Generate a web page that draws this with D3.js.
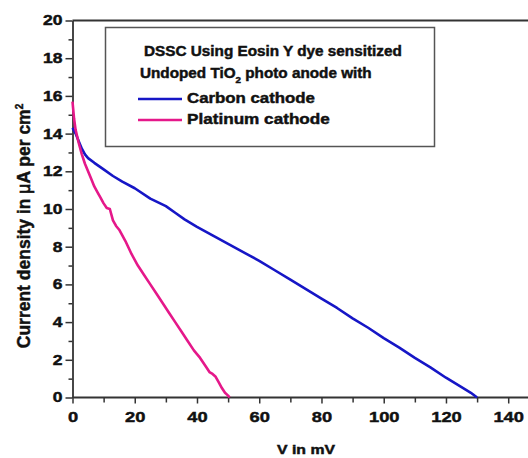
<!DOCTYPE html>
<html>
<head>
<meta charset="utf-8">
<script src="https://cdn.jsdelivr.net/npm/d3@7"></script>
<style>
  body { margin: 0; background: #fff; }
  svg text { font-family: Arial, "Liberation Sans", sans-serif; font-weight: 700; }
</style>
</head>
<body>
<script>
//Carbon cathode: [V in mV, current density]
const carbonV = [0, 1, 2, 3, 4, 5, 7, 10, 13, 16, 20, 25, 30, 33, 36, 40, 45, 50, 55, 60, 65, 70, 75, 80, 85, 90, 95, 100, 105, 110, 115, 120, 125, 128, 130];
const carbonJ = [14.3, 14.0, 13.6, 13.2, 12.9, 12.7, 12.45, 12.1, 11.75, 11.45, 11.1, 10.55, 10.15, 9.8, 9.45, 9.05, 8.6, 8.15, 7.7, 7.25, 6.75, 6.25, 5.75, 5.25, 4.75, 4.2, 3.7, 3.15, 2.65, 2.1, 1.6, 1.05, 0.55, 0.25, 0];

//Platinum cathode
const platinumV = [0, 0.5, 1, 2, 3, 4, 5, 6, 7, 8, 9, 10, 11, 12, 13, 14, 15, 17, 19, 21, 23, 25, 27, 29, 31, 33, 35, 37, 39, 41, 43, 44, 45, 46, 47, 48, 49, 50, 50.5];
const platinumJ = [15.7, 14.8, 14.2, 13.5, 12.9, 12.4, 12.0, 11.6, 11.2, 10.9, 10.6, 10.3, 10.05, 10.0, 9.4, 9.1, 8.9, 8.3, 7.6, 7.0, 6.5, 6.0, 5.5, 5.0, 4.5, 4.0, 3.5, 3.0, 2.5, 2.1, 1.6, 1.35, 1.25, 1.1, 0.8, 0.5, 0.25, 0.1, 0];

const xTicks = [0, 20, 40, 60, 80, 100, 120, 140];
const yTicks = [0, 2, 4, 6, 8, 10, 12, 14, 16, 18, 20];

const seriesNames = ["Carbon cathode", "Platinum cathode"];
const seriesColors = ["#1616c6", "#e5188a"];

const width = 528, height = 458;
const ink = "#111";

const svg = d3.select("body").append("svg")
  .attr("width", width)
  .attr("height", height);

//heavy text like the original
const heavy = (sel) => sel
  .attr("font-family", "Arial, 'Liberation Sans', sans-serif")
  .attr("font-weight", "bold")
  .attr("fill", ink)
  .attr("stroke", ink)
  .attr("stroke-width", 0.45);

//the original image is a bit wider than tall, so text gets stretched sideways
const stretch = (sel, sx) => sel.each(function() {
  const ax = +d3.select(this).attr("x") || 0;
  d3.select(this).attr("transform",
    "translate(" + ax + ",0) scale(" + sx + ",1) translate(" + (-ax) + ",0)");
});

//stretch a text so it fills a given width
const fitWidth = (sel, w) => sel.each(function() {
  const sx = w / this.getComputedTextLength();
  d3.select(this).call(stretch, sx);
});

//Scales
const x = d3.scaleLinear().domain([0, 147]).range([72.5, 530]);
const y = d3.scaleLinear().domain([0, 20]).range([397.5, 20.5]);

//Top frame line
svg.append("line")
  .attr("x1", x(0)).attr("x2", width)
  .attr("y1", y(20)).attr("y2", y(20))
  .attr("stroke", "#333").attr("stroke-width", 1.8);

//Minor ticks
svg.append("g")
  .attr("transform", "translate(0," + y(0) + ")")
  .call(d3.axisBottom(x).tickValues(d3.range(10, 147, 20)).tickSize(5).tickFormat(""))
  .call(g => g.select(".domain").remove())
  .selectAll("line").attr("stroke", "#333").attr("stroke-width", 1.5);

svg.append("g")
  .attr("transform", "translate(" + x(0) + ",0)")
  .call(d3.axisLeft(y).tickValues(d3.range(1, 20, 2)).tickSize(4).tickFormat(""))
  .call(g => g.select(".domain").remove())
  .selectAll("line").attr("stroke", "#333").attr("stroke-width", 1.5);

//X axis
const xAxis = svg.append("g")
  .attr("transform", "translate(0," + y(0) + ")")
  .call(d3.axisBottom(x).tickValues(xTicks).tickSize(6).tickSizeOuter(0).tickPadding(8));
xAxis.select(".domain").attr("stroke", "#333").attr("stroke-width", 1.8)
  .attr("d", "M" + x(0) + ",0H" + width);
xAxis.selectAll("line").attr("stroke", "#333").attr("stroke-width", 1.5);
xAxis.selectAll("text").attr("font-size", "15px").call(heavy).call(stretch, 1.22);

//Y axis
const yAxis = svg.append("g")
  .attr("transform", "translate(" + x(0) + ",0)")
  .call(d3.axisLeft(y).tickValues(yTicks).tickSize(7).tickSizeOuter(0).tickPadding(3));
yAxis.select(".domain").attr("stroke", "#333").attr("stroke-width", 1.8);
yAxis.selectAll("line").attr("stroke", "#333").attr("stroke-width", 1.5);
yAxis.selectAll("text").attr("font-size", "14px").call(heavy).call(stretch, 1.25);

//Axis labels
svg.append("text")
  .attr("text-anchor", "middle")
  .attr("x", 306).attr("y", 454)
  .attr("font-size", "12.5px")
  .call(heavy)
  .text("V in mV")
  .call(fitWidth, 58);

const yLabel = svg.append("text")
  .attr("transform", "translate(30,226) rotate(-90)")
  .attr("text-anchor", "middle")
  .attr("font-size", "17.5px")
  .call(heavy);
yLabel.append("tspan").text("Current density in ");
yLabel.append("tspan").attr("font-weight", "normal").attr("stroke-width", 0.7).text("μ");
yLabel.append("tspan").text("A per cm");
yLabel.append("tspan").attr("dy", -7).attr("font-size", "10px").text("2");

//Lines
const line = d3.line()
  .x(d => x(d[0]))
  .y(d => y(d[1]));

const series = [
  d3.zip(carbonV, carbonJ),
  d3.zip(platinumV, platinumJ)
];

svg.append("g")
  .selectAll("path")
  .data(series)
  .enter()
  .append("path")
    .attr("d", line)
    .attr("fill", "none")
    .attr("stroke", (d, i) => seriesColors[i])
    .attr("stroke-width", 2.6)
    .attr("stroke-linejoin", "round");

//Legend box
const legend = svg.append("g");
legend.append("rect")
  .attr("x", 105.5).attr("y", 27.5)
  .attr("width", 329).attr("height", 119)
  .attr("fill", "white")
  .attr("stroke", "#555").attr("stroke-width", 1.5);

legend.append("text")
  .attr("x", 144).attr("y", 56.5)
  .attr("font-size", "14px")
  .call(heavy)
  .text("DSSC Using Eosin Y dye sensitized")
  .call(fitWidth, 258);

const l2 = legend.append("text")
  .attr("x", 140).attr("y", 78)
  .attr("font-size", "14px")
  .call(heavy);
l2.append("tspan").text("Undoped TiO");
l2.append("tspan").attr("dy", 5).attr("font-size", "9px").text("2");
l2.append("tspan").attr("dy", -5).text(" photo anode with");
l2.call(fitWidth, 232);

const legendWidths = [128, 143];
seriesNames.forEach((name, i) => {
  const ly = 99 + i * 21;
  legend.append("line")
    .attr("x1", 138).attr("x2", 182)
    .attr("y1", ly).attr("y2", ly)
    .attr("stroke", seriesColors[i]).attr("stroke-width", 2.6);
  legend.append("text")
    .attr("x", 187).attr("y", ly + 4.5)
    .attr("font-size", "14px")
    .call(heavy)
    .text(name)
    .call(fitWidth, legendWidths[i]);
});
</script>
</body>
</html>
